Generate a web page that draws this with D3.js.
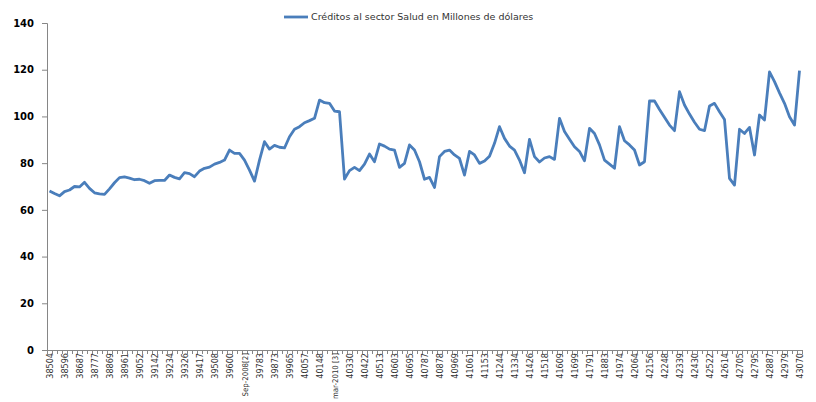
<!DOCTYPE html>
<html>
<head>
<meta charset="utf-8">
<script src="https://cdn.jsdelivr.net/npm/d3@7"></script>
<style>
  body { margin: 0; background: #fff; }
</style>
</head>
<body>
<svg id="chart"></svg>
<script>
// monthly values, Jun 2005 .. Dec 2017
const credits = [
    68.1, 67.0, 66.0, 67.8, 68.5, 70.0, 69.8, 71.8, 69.2, 67.3,
    66.8, 66.6, 69.0, 71.6, 73.8, 74.1, 73.6, 72.9, 73.1, 72.5,
    71.4, 72.5, 72.6, 72.6, 74.9, 73.9, 73.3, 75.9, 75.5, 74.2,
    76.6, 77.8, 78.3, 79.6, 80.3, 81.3, 85.6, 84.2, 84.2, 81.3,
    77.0, 72.3, 81.3, 89.2, 86.0, 87.6, 86.8, 86.5, 91.3, 94.5,
    95.6, 97.3, 98.2, 99.2, 107.0, 105.9, 105.6, 102.3, 102.0, 73.2,
    76.8, 78.2, 76.8, 79.6, 83.9, 80.6, 88.2, 87.3, 86.0, 85.6,
    78.2, 79.9, 87.8, 85.6, 80.6, 73.1, 73.9, 69.6, 82.8, 85.0,
    85.6, 83.5, 82.0, 74.9, 85.0, 83.5, 79.9, 80.9, 83.0, 88.5,
    95.6, 90.6, 87.3, 85.6, 81.3, 75.9, 90.2, 82.8, 80.5, 82.2,
    82.8, 81.6, 99.2, 93.5, 90.2, 87.0, 85.0, 81.0, 94.9, 92.7,
    87.8, 81.3, 79.6, 77.8, 95.6, 89.6, 87.8, 85.6, 79.2, 80.6,
    106.6, 106.6, 103.0, 99.6, 96.3, 93.9, 110.6, 104.9, 101.0, 97.5,
    94.5, 93.9, 104.5, 105.6, 102.0, 98.7, 73.5, 70.6, 94.5, 92.7,
    95.3, 83.5, 100.6, 98.5, 119.1, 114.9, 110.1, 105.6, 99.9, 96.3,
    119.6
];

// category labels shown every third month
const tickLabels = [
    '38504', '38596', '38687', '38777', '38869', '38961', '39052', '39142',
    '39234', '39326', '39417', '39508', '39600', 'Sep-2008[2]', '39783', '39873',
    '39965', '40057', '40148', 'mar-2010 [3]', '40330', '40422', '40513', '40603',
    '40695', '40787', '40878', '40969', '41061', '41153', '41244', '41334',
    '41426', '41518', '41609', '41699', '41791', '41883', '41974', '42064',
    '42156', '42248', '42339', '42430', '42522', '42614', '42705', '42795',
    '42887', '42979', '43070'
];

const yTicks = [0, 20, 40, 60, 80, 100, 120, 140];
const seriesName = 'Créditos al sector Salud en Millones de dólares';

const margin = { top: 23, right: 14, bottom: 52, left: 47 },
    width = 816 - margin.left - margin.right,
    height = 402 - margin.top - margin.bottom;

const svg = d3.select('#chart')
    .attr('width', 816)
    .attr('height', 402);
const chart = svg.append('g')
    .attr('transform', `translate(${margin.left},${margin.top})`);

const x = d3.scalePoint().domain(d3.range(credits.length)).range([0, width]).padding(0.5);
const xEdges = d3.scaleLinear().domain([0, credits.length]).range([0, width]);
const y = d3.scaleLinear().domain([0, 140]).range([height, 0]);

// y axis
const yAxis = chart.append('g')
    .call(d3.axisLeft(y).tickValues(yTicks).tickSize(5).tickPadding(8));
yAxis.select('.domain').attr('stroke', '#868686');
yAxis.selectAll('.tick line').attr('stroke', '#868686');
yAxis.selectAll('.tick text')
    .style('font-family', 'DejaVu Sans, Verdana, sans-serif')
    .style('font-size', '10px')
    .style('font-weight', 'bold')
    .attr('fill', '#000');

// x axis: month boundaries as small ticks
const xTicks = chart.append('g')
    .attr('transform', `translate(0,${height})`)
    .call(d3.axisBottom(xEdges).tickValues(d3.range(credits.length + 1)).tickSize(4).tickFormat(''));
xTicks.select('.domain').attr('stroke', '#868686');
xTicks.selectAll('.tick line').attr('stroke', '#868686');

// x axis labels, every third month, rotated
const labelIdx = tickLabels.map((d, i) => i * 3);
const xLabels = chart.append('g')
    .attr('transform', `translate(0,${height})`)
    .call(d3.axisBottom(x).tickValues(labelIdx).tickSize(0).tickFormat(i => tickLabels[i / 3]));
xLabels.select('.domain').remove();
xLabels.selectAll('.tick text')
    .attr('transform', 'rotate(-90)')
    .attr('x', -3)
    .attr('y', 0)
    .attr('dy', '0.35em')
    .style('text-anchor', 'end')
    .style('font-family', 'DejaVu Sans Condensed, sans-serif')
    .style('font-stretch', 'condensed')
    .style('font-size', i => tickLabels[i / 3].length > 6 ? '7.8px' : '9px')
    .attr('fill', '#333');

// series
const line = d3.line()
    .x((d, i) => x(i))
    .y(d => y(d));

chart.append('path')
    .datum(credits)
    .attr('fill', 'none')
    .attr('stroke', '#4a7ebb')
    .attr('stroke-width', 2.8)
    .attr('stroke-linejoin', 'round')
    .attr('d', line);

// legend
const legend = svg.append('g')
    .attr('transform', 'translate(284,17)');
legend.append('line')
    .attr('x1', 0)
    .attr('x2', 24)
    .attr('stroke', '#4a7ebb')
    .attr('stroke-width', 2.8);
legend.append('text')
    .attr('x', 27)
    .attr('dy', '0.35em')
    .text(seriesName)
    .style('font-family', 'DejaVu Sans, Verdana, sans-serif')
    .style('font-size', '9.5px')
    .attr('fill', '#333');
</script>
</body>
</html>
